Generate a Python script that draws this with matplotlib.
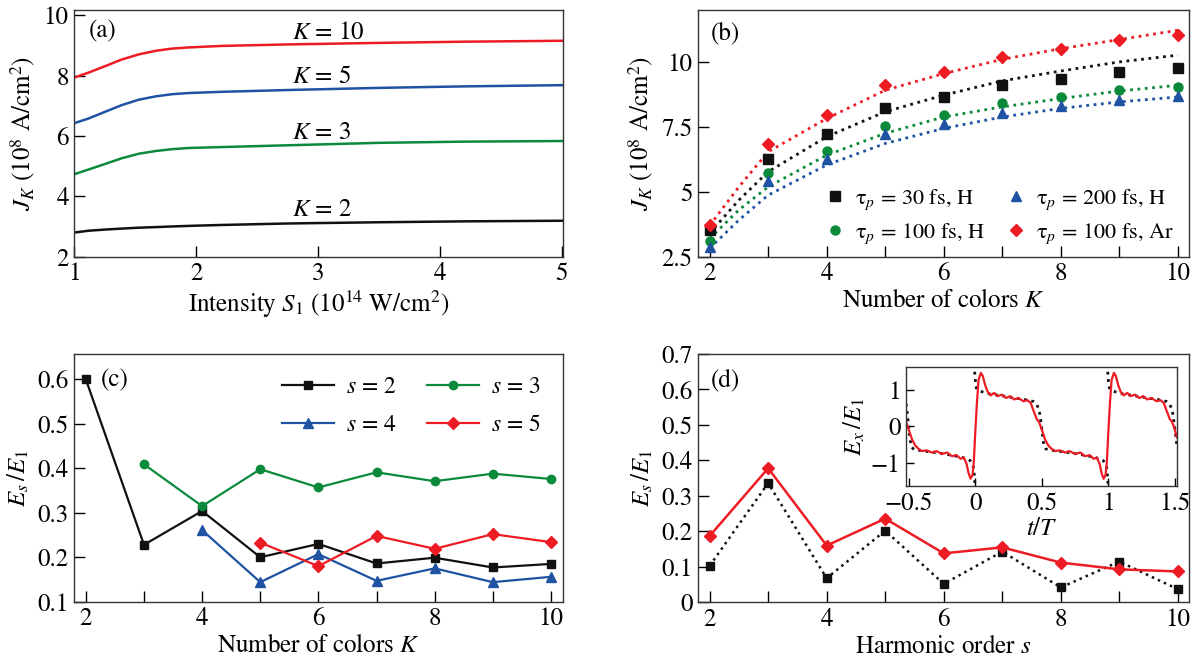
import matplotlib
matplotlib.use("Agg")
import matplotlib.pyplot as plt
import numpy as np

plt.rcParams["font.family"] = ["STIXGeneral", "DejaVu Serif"]
plt.rcParams["mathtext.fontset"] = "stix"
plt.rcParams["font.size"] = 18
plt.rcParams["axes.linewidth"] = 1.0

RED = "#ed1c24"
GREEN = "#0b8a3b"
BLUE = "#1f52a2"
BLACK = "#111111"

# (a) J_K vs intensity
intensity = [1.0, 1.12, 1.26, 1.39, 1.53, 1.67, 1.80, 1.94, 2.21, 2.76, 3.5, 4.2, 5.0]
ja_k10 = [7.93, 8.10, 8.32, 8.53, 8.70, 8.82, 8.89, 8.93, 8.98, 9.03, 9.08, 9.12, 9.15]
ja_k5 = [6.42, 6.58, 6.81, 7.02, 7.20, 7.31, 7.38, 7.42, 7.46, 7.52, 7.59, 7.64, 7.68]
ja_k3 = [4.73, 4.89, 5.08, 5.26, 5.41, 5.50, 5.56, 5.60, 5.63, 5.69, 5.77, 5.81, 5.83]
ja_k2 = [2.80, 2.86, 2.90, 2.93, 2.96, 2.98, 3.00, 3.02, 3.05, 3.10, 3.14, 3.17, 3.19]

# (b) J_K vs number of colors
colors_k = [2, 3, 4, 5, 6, 7, 8, 9, 10]
jb_30h = [3.53, 6.25, 7.22, 8.21, 8.63, 9.10, 9.35, 9.62, 9.77]
jb_100h = [3.12, 5.71, 6.58, 7.54, 7.94, 8.42, 8.63, 8.90, 9.04]
jb_200h = [2.88, 5.41, 6.25, 7.21, 7.60, 8.05, 8.30, 8.55, 8.69]
jb_100ar = [3.72, 6.83, 7.95, 9.10, 9.62, 10.19, 10.49, 10.83, 11.03]
# dotted fits
fit_k = [2, 2.5, 3, 4, 5, 6, 7, 8, 9, 10]
fit_30h = [3.40, 4.68, 5.77, 7.12, 8.08, 8.72, 9.27, 9.65, 10.00, 10.26]
fit_100h = [3.20, 4.30, 5.19, 6.41, 7.25, 7.88, 8.27, 8.59, 8.88, 9.10]
fit_200h = [2.82, 3.91, 4.87, 6.03, 6.86, 7.44, 7.88, 8.21, 8.46, 8.65]
fit_100ar = [3.70, 5.19, 6.54, 7.82, 8.91, 9.55, 10.10, 10.51, 10.86, 11.22]

# (c) E_s/E_1 vs K
kc_s2 = [2, 3, 4, 5, 6, 7, 8, 9, 10]
ec_s2 = [0.600, 0.228, 0.304, 0.200, 0.230, 0.186, 0.199, 0.177, 0.185]
kc_s3 = [3, 4, 5, 6, 7, 8, 9, 10]
ec_s3 = [0.409, 0.315, 0.398, 0.357, 0.391, 0.371, 0.388, 0.376]
kc_s4 = [4, 5, 6, 7, 8, 9, 10]
ec_s4 = [0.261, 0.144, 0.207, 0.147, 0.175, 0.144, 0.156]
kc_s5 = [5, 6, 7, 8, 9, 10]
ec_s5 = [0.233, 0.180, 0.248, 0.219, 0.252, 0.234]

# (d) harmonic amplitudes
order_s = [2, 3, 4, 5, 6, 7, 8, 9, 10]
ed_red = [0.187, 0.378, 0.160, 0.236, 0.138, 0.155, 0.112, 0.093, 0.087]
ed_black = [0.103, 0.336, 0.068, 0.202, 0.052, 0.143, 0.042, 0.115, 0.037]

# inset: field over time
t_red = [-0.52, -0.50, -0.475, -0.45, -0.425, -0.40, -0.3625, -0.325, -0.29, -0.25,
         -0.21, -0.175, -0.14, -0.11, -0.085, -0.065, -0.05, -0.035, -0.02, -0.01,
         0.0, 0.0125, 0.025, 0.0425, 0.0575, 0.075, 0.095, 0.1175, 0.1425, 0.1675,
         0.20, 0.2325, 0.2625, 0.2925, 0.325, 0.3625, 0.3925, 0.4175, 0.4375, 0.4625,
         0.48, 0.50, 0.525, 0.55, 0.575, 0.60, 0.6375, 0.675, 0.71, 0.75,
         0.79, 0.825, 0.86, 0.89, 0.915, 0.935, 0.95, 0.965, 0.98, 0.99,
         1.0, 1.0125, 1.025, 1.0425, 1.0575, 1.075, 1.095, 1.1175, 1.1425, 1.1675,
         1.20, 1.2325, 1.2625, 1.2925, 1.325, 1.3625, 1.3925, 1.4175, 1.4375, 1.4625,
         1.48, 1.50, 1.515]
e_red = [0.12, -0.08, -0.36, -0.53, -0.62, -0.68, -0.66, -0.72, -0.68, -0.76,
         -0.72, -0.82, -0.79, -0.89, -0.86, -1.03, -1.28, -1.44, -1.33, -0.95,
         -0.20, 0.62, 1.27, 1.47, 1.38, 1.13, 0.94, 0.85, 0.92, 0.83,
         0.87, 0.78, 0.83, 0.74, 0.78, 0.69, 0.72, 0.64, 0.44, 0.20,
         0.12, -0.08, -0.36, -0.53, -0.62, -0.68, -0.66, -0.72, -0.68, -0.76,
         -0.72, -0.82, -0.79, -0.89, -0.86, -1.03, -1.28, -1.44, -1.33, -0.95,
         -0.20, 0.62, 1.27, 1.47, 1.38, 1.13, 0.94, 0.85, 0.92, 0.83,
         0.87, 0.78, 0.83, 0.74, 0.78, 0.69, 0.72, 0.64, 0.44, 0.20,
         0.12, -0.08, -0.30]
t_dot = [-0.52, -0.51, -0.50, -0.49, -0.48, -0.46, -0.40, -0.30, -0.20, -0.10,
         -0.0375, -0.0125, -0.005, 0.0, np.nan,
         -0.004, 0.0, 0.005, 0.0125, 0.03, 0.06, 0.10, 0.20, 0.30, 0.40,
         0.44, 0.46, 0.475, 0.485, 0.495, 0.505, 0.515, 0.53, 0.56, 0.60,
         0.70, 0.80, 0.90, 0.9625, 0.9875, 0.995, 1.0, np.nan,
         0.996, 1.0, 1.005, 1.0125, 1.03, 1.06, 1.10, 1.20, 1.30, 1.40,
         1.44, 1.46, 1.475, 1.485, 1.495, 1.505, 1.515]
e_dot = [0.62, 0.35, 0.0, -0.35, -0.56, -0.64, -0.67, -0.72, -0.78, -0.85,
         -0.94, -1.12, -1.40, -1.75, np.nan,
         1.50, 1.30, 1.10, 1.02, 0.98, 0.94, 0.90, 0.84, 0.78, 0.72,
         0.68, 0.62, 0.50, 0.35, 0.10, -0.20, -0.50, -0.62, -0.65, -0.67,
         -0.72, -0.78, -0.85, -0.94, -1.12, -1.40, -1.75, np.nan,
         1.50, 1.30, 1.10, 1.02, 0.98, 0.94, 0.90, 0.84, 0.78, 0.72,
         0.68, 0.62, 0.50, 0.35, 0.10, -0.20, -0.50]


def style_axes(ax):
    ax.tick_params(direction="in", length=8, width=1.0, top=False, right=False, pad=4)
    for sp in ax.spines.values():
        sp.set_color("#333333")


def int_ticks(ax, lo, hi):
    ticks = list(range(lo, hi + 1))
    ax.set_xticks(ticks)
    ax.set_xticklabels([str(t) if t % 2 == 0 else "" for t in ticks])


fig = plt.figure(figsize=(11.97, 6.70), dpi=100)

# ---- (a)
ax = fig.add_axes([0.0620, 0.6169, 0.4080, 0.3682])
ax.plot(intensity, ja_k10, color=RED, lw=1.8)
ax.plot(intensity, ja_k5, color=BLUE, lw=1.8)
ax.plot(intensity, ja_k3, color=GREEN, lw=1.8)
ax.plot(intensity, ja_k2, color=BLACK, lw=1.8)
ax.set_xlim(1, 5.005)
ax.set_ylim(2, 10.17)
ax.set_xticks([1, 2, 3, 4, 5])
ax.set_yticks([2, 4, 6, 8, 10])
for lab, yy in [("10", 9.40), ("5", 7.94), ("3", 6.10), ("2", 3.55)]:
    ax.text(2.79, yy, r"$K$ = " + lab, ha="left", va="center")
ax.text(0.029, 0.915, "(a)", transform=ax.transAxes, ha="left", va="center")
ax.set_xlabel(r"Intensity $S_1$ (10$^{14}$ W/cm$^2$)", labelpad=2)
ax.set_ylabel(r"$J_K$ (10$^8$ A/cm$^2$)", labelpad=4)
style_axes(ax)

# ---- (b)
ax = fig.add_axes([0.5833, 0.6169, 0.4100, 0.3682])
ax.plot(fit_k, fit_30h, color=BLACK, ls=":", lw=2.0)
ax.plot(fit_k, fit_100h, color=GREEN, ls=":", lw=2.0)
ax.plot(fit_k, fit_200h, color=BLUE, ls=":", lw=2.0)
ax.plot(fit_k, fit_100ar, color=RED, ls=":", lw=2.0)
ax.plot(colors_k, jb_30h, "s", color=BLACK, ms=6.5, ls="none", label=r"τ$_p$ = 30 fs, H")
ax.plot(colors_k, jb_100h, "o", color=GREEN, ms=6.5, ls="none", label=r"τ$_p$ = 100 fs, H")
ax.plot(colors_k, jb_200h, "^", color=BLUE, ms=7, ls="none", label=r"τ$_p$ = 200 fs, H")
ax.plot(colors_k, jb_100ar, "D", color=RED, ms=6.5, ls="none", label=r"τ$_p$ = 100 fs, Ar")
ax.set_xlim(1.805, 10.19)
ax.set_ylim(2.5, 12.0)
int_ticks(ax, 2, 10)
ax.set_yticks([2.5, 5, 7.5, 10])
ax.set_yticklabels(["2.5", "5", "7.5", "10"])
ax.text(0.056, 0.906, "(b)", transform=ax.transAxes, ha="center", va="center")
ax.set_xlabel(r"Number of colors $K$", labelpad=2)
ax.set_ylabel(r"$J_K$ (10$^8$ A/cm$^2$)", labelpad=4)
ax.legend(ncol=2, loc="lower right", bbox_to_anchor=(1.0, -0.02), frameon=False,
          fontsize=16, handlelength=0.6, handletextpad=0.6, columnspacing=1.1,
          labelspacing=0.45, borderaxespad=0.3)
style_axes(ax)

# ---- (c)
ax = fig.add_axes([0.0620, 0.1019, 0.4080, 0.3697])
h2, = ax.plot(kc_s2, ec_s2, "-s", color=BLACK, lw=1.6, ms=6, label=r"$s$ = 2")
h3, = ax.plot(kc_s3, ec_s3, "-o", color=GREEN, lw=1.6, ms=6, label=r"$s$ = 3")
h4, = ax.plot(kc_s4, ec_s4, "-^", color=BLUE, lw=1.6, ms=6.5, label=r"$s$ = 4")
h5, = ax.plot(kc_s5, ec_s5, "-D", color=RED, lw=1.6, ms=6, label=r"$s$ = 5")
ax.set_xlim(1.80, 10.2)
ax.set_ylim(0.1, 0.657)
int_ticks(ax, 2, 10)
ax.set_yticks([0.1, 0.2, 0.3, 0.4, 0.5, 0.6])
ax.text(0.054, 0.895, "(c)", transform=ax.transAxes, ha="left", va="center")
ax.set_xlabel(r"Number of colors $K$", labelpad=2)
ax.set_ylabel(r"$E_s\,/E_1$", labelpad=4)
ax.legend(handles=[h2, h4, h3, h5], ncol=2, loc="upper right", frameon=False,
          fontsize=17, handlelength=2.2, handletextpad=0.5, columnspacing=1.3,
          labelspacing=0.7, borderaxespad=0.55)
style_axes(ax)

# ---- (d)
ax = fig.add_axes([0.5833, 0.1010, 0.4100, 0.3706])
ax.plot(order_s, ed_black, ":s", color=BLACK, lw=1.8, ms=6)
ax.plot(order_s, ed_red, "-D", color=RED, lw=1.8, ms=6.5)
ax.set_xlim(1.805, 10.19)
ax.set_ylim(0, 0.7)
int_ticks(ax, 2, 10)
ax.set_yticks([0, 0.1, 0.2, 0.3, 0.4, 0.5, 0.6, 0.7])
ax.set_yticklabels(["0", "0.1", "0.2", "0.3", "0.4", "0.5", "0.6", "0.7"])
ax.text(0.026, 0.895, "(d)", transform=ax.transAxes, ha="left", va="center")
ax.set_xlabel(r"Harmonic order $s$", labelpad=2)
ax.set_ylabel(r"$E_s\,/E_1$", labelpad=4)
style_axes(ax)

# ---- inset
axi = fig.add_axes([0.7569, 0.2746, 0.2262, 0.1781])
axi.plot(t_dot, e_dot, ":", color=BLACK, lw=2.0)
axi.plot(t_red, e_red, "-", color=RED, lw=1.6)
axi.set_xlim(-0.52, 1.515)
axi.set_ylim(-1.64, 1.64)
axi.set_xticks([-0.5, 0, 0.5, 1, 1.5])
axi.set_xticklabels(["\u22120.5", "0", "0.5", "1", "1.5"])
axi.set_yticks([-1, 0, 1])
axi.set_yticklabels(["\u22121", "0", "1"])
axi.set_xlabel(r"$t/T$", labelpad=1)
axi.set_ylabel(r"$E_x\,/E_1$", labelpad=2)
style_axes(axi)
axi.tick_params(length=6)

fig.savefig("out.png", dpi=100)
